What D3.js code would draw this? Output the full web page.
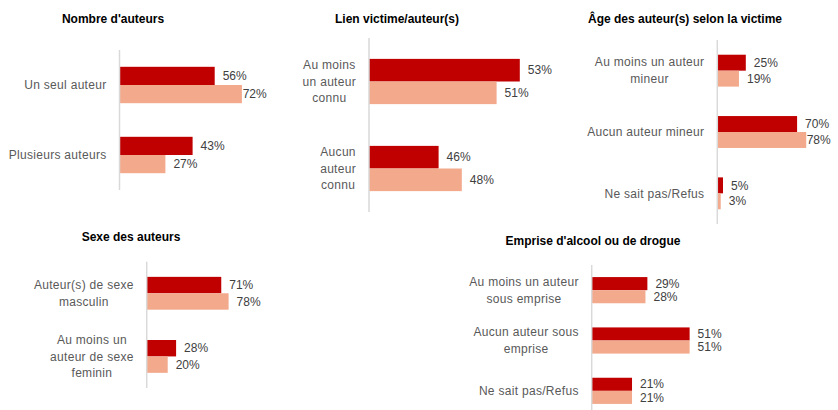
<!DOCTYPE html>
<html lang="fr">
<head>
  <meta charset="UTF-8">
  <title>Caractéristiques des auteurs</title>
  <script src="https://d3js.org/d3.v7.min.js"></script>
  <style>
    body { margin: 0; background: #fff; font-family: "Liberation Sans", Arial, sans-serif; }
    svg { display: block; }
    .title { font-weight: bold; font-size: 12px; fill: #000; }
    .cat { font-size: 12px; fill: #595959; letter-spacing: 0.3px; }
    .val { font-size: 12px; fill: #404040; }
    .axis { stroke: #d9d9d9; stroke-width: 1.5; }
  </style>
</head>
<body>
  <svg width="838" height="410"></svg>

  <script>
    // Data (lines of a category label separated by "\n")
    const titles = ["Nombre d'auteurs", "Lien victime/auteur(s)", "Âge des auteur(s) selon la victime",
                    "Sexe des auteurs", "Emprise d'alcool ou de drogue"];

    const catsNombre = ["Un seul auteur", "Plusieurs auteurs"];
    const darkNombre = [56, 43];
    const lightNombre = [72, 27];

    const catsLien = ["Au moins\nun auteur\nconnu", "Aucun\nauteur\nconnu"];
    const darkLien = [53, 46];
    const lightLien = [51, 48];

    const catsAge = ["Au moins un auteur\nmineur", "Aucun auteur mineur", "Ne sait pas/Refus"];
    const darkAge = [25, 70, 5];
    const lightAge = [19, 78, 3];

    const catsSexe = ["Auteur(s) de sexe\nmasculin", "Au moins un\nauteur de sexe\nfeminin"];
    const darkSexe = [71, 28];
    const lightSexe = [78, 20];

    const catsEmprise = ["Au moins un auteur\nsous emprise", "Aucun auteur sous\nemprise", "Ne sait pas/Refus"];
    const darkEmprise = [29, 51, 21];
    const lightEmprise = [28, 51, 21];

    const darkColor = "#c00000";
    const lightColor = "#f2a98c";

    // layout for each panel
    const panels = [
      { title: titles[0], cats: catsNombre, dark: darkNombre, light: lightNombre,
        ax: 119.5, top: 50, bottom: 190, domain: [0, 80], pxw: 136, tx: 113, ty: 23, maxLabel: 242.7 },
      { title: titles[1], cats: catsLien, dark: darkLien, light: lightLien,
        ax: 369, top: 38, bottom: 212, domain: [40, 55], pxw: 174, tx: 397, ty: 23, maxLabel: Infinity },
      { title: titles[2], cats: catsAge, dark: darkAge, light: lightAge,
        ax: 717.3, top: 40, bottom: 224, domain: [0, 80], pxw: 91.2, tx: 685, ty: 23, maxLabel: 806.7 },
      { title: titles[3], cats: catsSexe, dark: darkSexe, light: lightSexe,
        ax: 146.7, top: 261.7, bottom: 388, domain: [0, 80], pxw: 84, tx: 131, ty: 241, maxLabel: Infinity },
      { title: titles[4], cats: catsEmprise, dark: darkEmprise, light: lightEmprise,
        ax: 591.7, top: 265, bottom: 416, domain: [0, 60], pxw: 115.2, tx: 593, ty: 245, maxLabel: Infinity }
    ];

    const svg = d3.select("svg");
    const lineH = 16.8;

    panels.forEach(p => {
      const g = svg.append("g");
      const x = d3.scaleLinear().domain(p.domain).range([p.ax, p.ax + p.pxw]);
      const y = d3.scaleBand().domain(p.cats).range([p.top, p.bottom])
        .paddingInner(0.48).paddingOuter(0.24);
      const sub = d3.scaleBand().domain(["dark", "light"]).range([0, y.bandwidth()]);

      g.append("text").attr("class", "title")
        .attr("x", p.tx).attr("y", p.ty).attr("text-anchor", "middle").text(p.title);

      const rows = p.cats.map((c, i) => ({ cat: c, dark: p.dark[i], light: p.light[i] }));

      const groups = g.selectAll(".row").data(rows).join("g")
        .attr("transform", d => `translate(0,${y(d.cat)})`);

      ["dark", "light"].forEach(key => {
        groups.append("rect")
          .attr("x", x(p.domain[0]))
          .attr("y", sub(key))
          .attr("width", d => x(d[key]) - x(p.domain[0]))
          .attr("height", sub.bandwidth())
          .attr("fill", key === "dark" ? darkColor : lightColor);

        groups.append("text").attr("class", "val")
          .attr("x", d => Math.min(x(d[key]) + 8, p.maxLabel))
          .attr("y", sub(key) + sub.bandwidth() / 2)
          .attr("dy", "0.35em")
          .text(d => d[key] + "%");
      });

      // category labels: block right aligned, lines centred within the block
      groups.each(function (d) {
        const lines = d.cat.split("\n");
        const t = d3.select(this).append("text").attr("class", "cat");
        const spans = lines.map((l, i) => t.append("tspan").text(l));
        const widths = spans.map(s => s.node().getComputedTextLength());
        const right = p.ax - 13;
        const cx = right - d3.max(widths) / 2;
        const y0 = y.bandwidth() / 2 - (lines.length - 1) * lineH / 2;
        spans.forEach((s, i) => s.attr("x", cx).attr("y", y0 + i * lineH)
          .attr("dy", "0.35em").attr("text-anchor", "middle"));
      });

      g.append("line").attr("class", "axis")
        .attr("x1", p.ax).attr("x2", p.ax)
        .attr("y1", p.top).attr("y2", p.bottom);
    });
  </script>
</body>
</html>
